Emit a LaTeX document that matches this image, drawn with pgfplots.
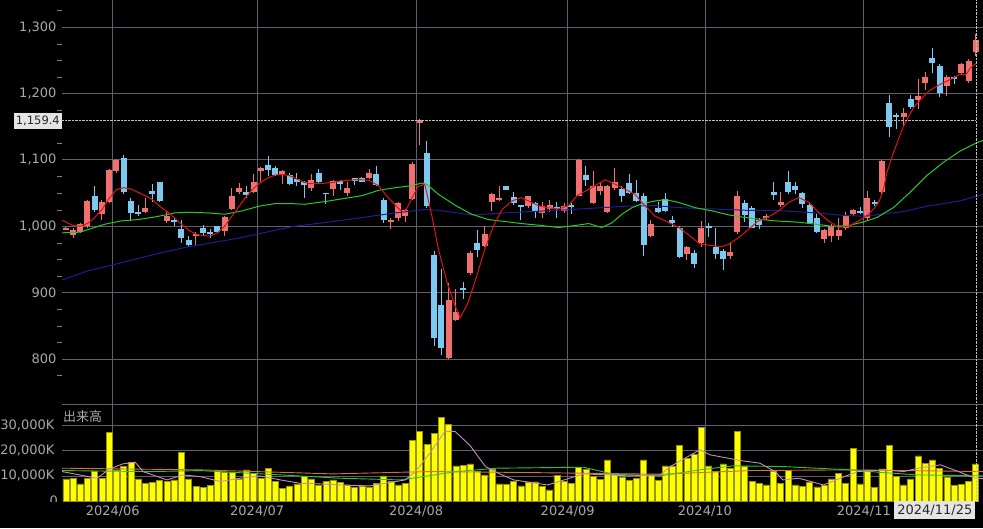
\documentclass[border=0pt]{standalone}
\usepackage{fontspec}
\setmainfont{DejaVu Sans}
\newfontfamily\cjk{Noto Sans CJK JP}
\usepackage{pgfplots}
\usepackage{pgfplotstable}
\pgfplotsset{compat=1.18}

\definecolor{upc}{RGB}{240,112,112}
\definecolor{dnc}{RGB}{125,200,240}
\definecolor{mafast}{RGB}{225,20,20}
\definecolor{mamid}{RGB}{40,200,40}
\definecolor{maslow}{RGB}{30,30,150}
\definecolor{volc}{RGB}{255,255,0}
\definecolor{volb}{RGB}{150,150,0}
\definecolor{vpink}{RGB}{200,140,200}
\definecolor{vgreen}{RGB}{40,200,40}
\definecolor{vorange}{RGB}{220,110,50}
\definecolor{gridc}{RGB}{95,95,110}
\definecolor{labc}{RGB}{168,168,168}

% daily candles, index 0 = 2024/05/23
\pgfplotstableread{
i o h l c
0 996 999 994 997
1 987 997 982 994
2 992 1005 990 1004
3 1001 1040 998 1038
4 1045 1060 1022 1025
5 1018 1040 1009 1036
6 1037 1086 1035 1085
7 1083 1101 1080 1100
8 1102 1108 1048 1051
9 1038 1042 1008 1020
10 1021 1032 1016 1018
11 1021 1042 1020 1027
12 1053 1063 1036 1049
13 1066 1067 1037 1038
14 1008 1023 1005 1016
15 1009 1013 1000 1006
16 996 1010 975 982
17 979 986 968 971
18 985 991 970 988
19 998 1002 986 990
20 991 996 982 988
21 1000 1001 990 991
22 993 1015 986 1014
23 1026 1057 1024 1045
24 1051 1065 1048 1057
25 1052 1060 1043 1047
26 1051 1078 1050 1066
27 1083 1089 1067 1088
28 1092 1105 1075 1085
29 1087 1090 1075 1077
30 1078 1085 1064 1083
31 1077 1080 1062 1063
32 1071 1080 1060 1066
33 1066 1068 1042 1062
34 1057 1078 1053 1069
35 1080 1086 1065 1067
36 1050 1050 1033 1049
37 1056 1070 1045 1068
38 1068 1070 1055 1063
39 1050 1066 1045 1058
40 1072 1073 1062 1068
41 1073 1074 1066 1067
42 1073 1086 1071 1080
43 1078 1091 1061 1062
44 1040 1043 1005 1010
45 1006 1012 996 1010
46 1012 1037 1008 1035
47 1015 1026 1007 1024
48 1041 1097 1039 1093
49 1156 1161 1123 1160
50 1111 1128 1028 1031
51 956 963 819 831
52 881 936 806 816
53 801 914 800 889
54 859 906 857 871
55 906 916 891 905
56 930 963 926 960
57 975 994 953 964
58 970 1000 968 988
59 1037 1050 1023 1049
60 1041 1060 1038 1042
61 1060 1061 1054 1055
62 1044 1052 1032 1035
63 1031 1031 1010 1030
64 1031 1046 1028 1045
65 1035 1036 1013 1022
66 1020 1037 1012 1031
67 1026 1040 1022 1032
68 1028 1036 1012 1027
69 1023 1035 1020 1031
70 1031 1035 1018 1030
71 1046 1101 1045 1100
72 1077 1091 1060 1070
73 1035 1083 1033 1061
74 1053 1067 1047 1061
75 1021 1062 1020 1061
76 1057 1087 1055 1067
77 1056 1060 1037 1046
78 1065 1078 1048 1050
79 1050 1070 1037 1038
80 1046 1050 955 971
81 985 1010 983 1003
82 1027 1037 1020 1021
83 1041 1050 1022 1023
84 1009 1015 999 1005
85 998 1000 952 953
86 958 970 949 969
87 959 964 937 943
88 974 1008 969 998
89 1000 1005 983 999
90 969 998 951 958
91 963 965 934 951
92 955 974 950 961
93 991 1053 988 1045
94 1035 1040 1007 1017
95 1028 1030 997 998
96 1010 1012 996 1002
97 1012 1018 1010 1016
98 1052 1067 1040 1047
99 1032 1051 1029 1036
100 1066 1083 1048 1052
101 1060 1066 1048 1055
102 1050 1051 1027 1033
103 1032 1035 1003 1005
104 1012 1018 990 991
105 981 996 975 994
106 985 1003 976 1000
107 985 1013 979 994
108 998 1022 995 1016
109 1018 1026 1016 1024
110 1022 1029 1018 1021
111 1013 1053 1010 1043
112 1036 1040 1031 1035
113 1051 1099 1049 1098
114 1185 1197 1134 1150
115 1167 1170 1147 1166
116 1165 1178 1151 1170
117 1191 1198 1177 1180
118 1190 1221 1176 1196
119 1215 1233 1205 1225
120 1254 1269 1231 1246
121 1242 1244 1195 1200
122 1211 1228 1196 1225
123 1224 1226 1214 1221
124 1230 1246 1228 1244
125 1219 1252 1216 1249
126 1262 1289 1257 1281
}\ohlc

% volume in thousands of shares
\pgfplotstableread{
i v
0 8800
1 9070
2 6800
3 9070
4 11730
5 9070
6 27470
7 12400
8 13730
9 15470
10 8800
11 7070
12 7330
13 8130
14 7730
15 8400
16 19330
17 8800
18 5730
19 5470
20 6270
21 12000
22 11600
23 11330
24 8800
25 12400
26 11070
27 9070
28 13070
29 7870
30 5070
31 6000
32 6800
33 9730
34 8800
35 6270
36 7870
37 8400
38 7330
39 6400
40 5470
41 6000
42 5470
43 7070
44 10000
45 7730
46 6400
47 7070
48 24130
49 27730
50 22670
51 26800
52 33330
53 30670
54 14000
55 14130
56 14800
57 11730
58 10400
59 12670
60 6800
61 6670
62 7730
63 6000
64 7600
65 7600
66 5730
67 4400
68 10270
69 7870
70 7070
71 13470
72 12670
73 9730
74 8670
75 16400
76 10800
77 9330
78 8130
79 8930
80 16400
81 10400
82 8130
83 14000
84 14000
85 22130
86 17070
87 18670
88 29330
89 14000
90 11730
91 14800
92 13070
93 27600
94 14000
95 7870
96 7070
97 6400
98 11730
99 7070
100 12130
101 6400
102 5870
103 7600
104 5600
105 6130
106 8800
107 11070
108 7070
109 21070
110 6800
111 12400
112 5470
113 12800
114 22000
115 9730
116 6400
117 8800
118 18000
119 15070
120 16400
121 13070
122 9330
123 6130
124 6670
125 7730
126 14800
}\vol

\pgfplotsset{
  panel/.style={
    scale only axis, width=921pt,
    xmin=-0.53, xmax=127,
    axis line style={draw=none},
    xtick={6.5,26.5,48.5,69.5,88.5,110.5},
    major tick length=0pt,
    grid=major, major grid style={gridc, line width=0.8pt},
    ytick pos=left, xtick pos=bottom,
    tick label style={text=labc, font=\fontsize{13pt}{15pt}\selectfont},
    /pgf/number format/assume math mode=true,
    /pgf/number format/1000 sep={,},
  },
  upf/.style={x filter/.expression={\thisrow{c}<\thisrow{o} ? nan : x}},
  dnf/.style={x filter/.expression={\thisrow{c}<\thisrow{o} ? x : nan}},
  wick/.style={draw=none, mark=none, forget plot,
    error bars/.cd, y dir=both, y explicit, error mark=none,
    error bar style={#1, line width=1pt}},
  body/.style={draw=none, mark=none, forget plot,
    error bars/.cd, y dir=both, y explicit, error mark=none,
    error bar style={#1, line width=6pt}},
}

\begin{document}
\begin{tikzpicture}
\path[use as bounding box, fill=black] (0,0) rectangle (983pt,528pt);

% ---- price panel ----
\begin{axis}[panel,
  at={(62pt,124pt)}, anchor=south west, height=404pt,
  ymin=732.2, ymax=1340.7,
  ytick={800,900,1000,1100,1200,1300},
  minor ytick={775,825,850,875,925,950,975,1025,1050,1075,1125,1150,1175,1225,1250,1275,1325},
  minor tick length=5pt, tick align=outside,
  minor tick style={draw=gray},
  minor grid style={draw=none},
  xticklabels={},
  yticklabel style={anchor=east, xshift=-2pt},
]
\addplot[upf, wick=upc] table[x=i, y expr=(\thisrow{h}+\thisrow{l})/2, y error expr=(\thisrow{h}-\thisrow{l})/2] {\ohlc};
\addplot[dnf, wick=dnc] table[x=i, y expr=(\thisrow{h}+\thisrow{l})/2, y error expr=(\thisrow{h}-\thisrow{l})/2] {\ohlc};
\addplot[upf, body=upc] table[x=i, y expr=(\thisrow{o}+\thisrow{c})/2, y error expr={max(abs(\thisrow{c}-\thisrow{o})/2,0.8)}] {\ohlc};
\addplot[dnf, body=dnc] table[x=i, y expr=(\thisrow{o}+\thisrow{c})/2, y error expr={max(abs(\thisrow{c}-\thisrow{o})/2,0.8)}] {\ohlc};

% long moving average
\addplot[maslow, line width=1pt] coordinates {
(-0.53,919) (3.1,933) (7.7,945) (12.4,958) (16.5,968) (19.7,974) (24.4,983) (29,994) (31.7,1000) (36.3,1006) (41,1013) (45.6,1020) (49.7,1025) (51.6,1024) (56.2,1017) (60.8,1020) (64.3,1022) (68.2,1024) (72.8,1027) (77.4,1030) (81.6,1031) (84.8,1028) (89.5,1026) (94.1,1024) (98.2,1024) (103.8,1020) (108,1016) (110.7,1015) (113.5,1019) (116,1022) (119.2,1030) (123.8,1038) (126,1045) (127,1048)};
% mid moving average
\addplot[mamid, line width=1pt] coordinates {
(-0.53,990) (2,991) (3.1,995) (5.4,1003) (7.7,1008) (10,1010) (12.4,1014) (14.7,1019) (15.1,1020) (17,1021) (19.7,1020) (22,1018) (24.4,1023) (26.7,1030) (29,1034) (31.3,1034) (33.1,1033) (36.4,1038) (41,1046) (43.3,1054) (45.6,1058) (47.9,1061) (49.3,1065) (50,1063) (51.6,1048) (54,1031) (56.2,1018) (58.5,1010) (60.8,1007) (63.1,1004) (65.9,1001) (68.2,998) (70.5,1001) (72.4,1004) (74.2,998) (75.6,1005) (77,1018) (78.4,1028) (79.8,1034) (81.6,1038) (83,1040) (84.8,1036) (87.1,1028) (89.5,1023) (91.8,1017) (94.1,1013) (96.4,1010) (98.2,1008) (101.5,1006) (103.8,1003) (106.1,1000) (108.4,1001) (110.3,1006) (112.3,1013) (114.6,1028) (116.9,1051) (119.2,1076) (121.5,1096) (123.8,1113) (126.2,1126) (127,1129)};
% short moving average
\addplot[mafast, line width=1pt] coordinates {
(-0.53,1009) (1,1001) (2,1000) (3,1004) (4,1013) (5,1025) (6,1042) (7,1055) (8,1058) (9,1056) (10,1051) (11,1046) (12,1040) (13,1030) (14,1022) (15,1013) (16,1003) (17,994) (18,988) (19,986) (20,985) (21,990) (22,1000) (23,1015) (24,1030) (25,1045) (26,1057) (27,1066) (28,1073) (29,1077) (30,1078) (31,1076) (32,1071) (33,1066) (34,1064) (35,1064) (36,1065) (37,1066) (38,1068) (39,1069) (40,1070) (41,1070) (42,1069) (43.3,1061) (44.4,1046) (45.6,1032) (46.5,1022) (47,1022) (47.9,1042) (48.8,1060) (49.7,1063) (50.7,1015) (51.6,965) (52.8,915) (53.9,880) (54.6,862) (55.7,885) (56.9,925) (58,965) (59.2,1000) (60.4,1025) (61.8,1038) (63,1043) (64.1,1038) (65.4,1031) (66.5,1028) (68.2,1026) (69.6,1031) (70.8,1046) (72.8,1058) (74.7,1070) (76.1,1063) (77.4,1056) (78.8,1048) (80,1033) (81.6,1015) (83,1008) (84.9,998) (86.7,983) (87.8,973) (89.5,971) (90.8,969) (91.8,973) (93.2,983) (94.5,995) (95.9,1008) (97.3,1014) (98.7,1023) (100.1,1036) (101.5,1043) (102.9,1036) (104.2,1021) (105.6,1008) (107,998) (108.4,1000) (109.8,1008) (110.8,1015) (111.8,1025) (112.6,1037) (113.2,1055) (113.7,1081) (114.6,1111) (116,1151) (117.4,1179) (118.8,1196) (119.7,1205) (121.1,1214) (122.5,1221) (123.9,1229) (124.6,1228) (125.3,1239) (126,1245)};

\draw[densely dotted, white!75!black] (axis cs:-0.53,1159.4) -- (axis cs:126,1159.4);
\draw[densely dotted, white!75!black] (axis cs:126,732.2) -- (axis cs:126,1340.7);
\end{axis}

% ---- volume panel ----
\begin{axis}[panel,
  at={(62pt,27pt)}, anchor=south west, height=97pt,
  ymin=0, ymax=38800,
  ytick={10000,20000,30000},
  yticklabels={{10,000K},{20,000K},{30,000K}},
  scaled y ticks=false,
  yticklabel style={anchor=east, xshift=-4pt},
  xticklabels={2024/06,2024/07,2024/08,2024/09,2024/10,2024/11},
  xticklabel style={anchor=base, yshift=-14pt},
]
\addplot[ybar, bar width=6pt, fill=volc, draw=volb, line width=0.6pt] table[x=i, y=v] {\vol};
\addplot[vorange, line width=0.9pt] coordinates {
(-0.53,13070) (18.6,12400) (37,10800) (50.4,11730) (64.3,11330) (82.3,10670) (94.8,12130) (108.6,12400) (127,11730)};
\addplot[vgreen, line width=0.9pt] coordinates {
(-0.53,12130) (11.7,11700) (18.6,12130) (29.7,10400) (38,9070) (46.3,8400) (48,9070) (54.1,11730) (59.7,13070) (71.7,13470) (75.8,10670) (82.3,10000) (87.8,12400) (92.4,14000) (99.3,13730) (108.6,12400) (113.2,11330) (117.9,10400) (127,10000)};
\addplot[vpink, line width=0.9pt] coordinates {
(-0.53,11730) (4.3,9070) (6.1,12800) (7.9,14800) (9.6,15470) (10.7,11730) (14,8400) (16.2,10400) (18.6,9730) (21.4,7730) (24.1,9070) (26.9,10000) (29.7,8400) (32.4,7070) (35.2,6800) (38,6400) (42.1,6000) (47,8400) (48.5,12000) (50.4,19070) (52.5,27730) (53.9,27730) (56,22000) (58.1,13730) (60.1,10800) (62,8400) (66.7,6400) (69,8400) (71.7,10800) (75,10400) (78,10000) (82.3,10400) (83.7,13730) (87.8,20400) (89.2,18400) (93.4,16130) (96.1,15070) (98.2,11730) (99.3,8400) (101.5,9070) (104.9,6400) (107.8,9730) (109.7,11730) (113.3,12400) (116,11730) (118,13070) (121.1,14400) (123.6,11730) (125.9,9070) (127,8900)};
\draw[densely dotted, white!75!black] (axis cs:126,0) -- (axis cs:126,38800);
\end{axis}

\draw[gridc, line width=0.8pt] (62pt,124pt) -- (983pt,124pt);
\node[anchor=north west, inner sep=1pt, text=labc, font=\cjk\fontsize{13pt}{15pt}\selectfont] at (62pt,119pt) {出来高};
\begin{scope}
\clip (0,27pt) rectangle (62pt,124pt);
\node[anchor=east, inner sep=0pt, text=labc, font=\fontsize{13pt}{15pt}\selectfont] at (58pt,27pt) {0};
\end{scope}
\node[anchor=east, fill={rgb,255:red,228;green,228;blue,228}, text={rgb,255:red,40;green,40;blue,40}, inner xsep=2pt, inner ysep=3pt, font=\fontsize{11.5pt}{13pt}\selectfont] at (62pt,407.4pt) {1,159.4};
\node[anchor=north east, fill={rgb,255:red,228;green,228;blue,228}, text={rgb,255:red,40;green,40;blue,40}, inner xsep=3pt, minimum height=18pt, font=\fontsize{13pt}{15pt}\selectfont] at (975.5pt,27pt) {2024/11/25};
\end{tikzpicture}
\end{document}
